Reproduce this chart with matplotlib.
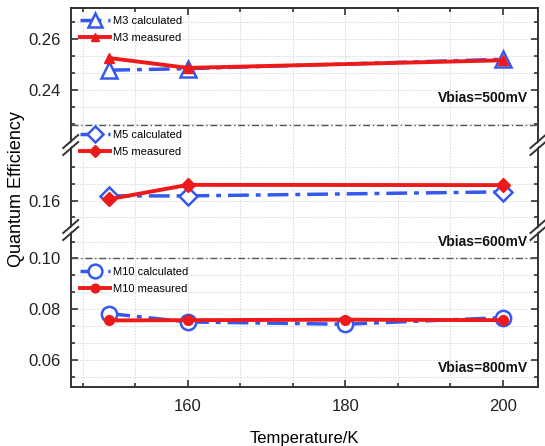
import numpy as np
import matplotlib
matplotlib.use("Agg")
import matplotlib.pyplot as plt
from matplotlib.ticker import FixedLocator, MultipleLocator, AutoMinorLocator
from matplotlib.lines import Line2D
from matplotlib.patches import Polygon

plt.rcParams["font.family"] = ["Liberation Sans", "DejaVu Sans"]

# ---- data --------------------------------------------------------------------
temp_m3 = [150, 160, 200]
m3_calc = [0.2478, 0.2484, 0.2521]
m3_meas = [0.2526, 0.2487, 0.2517]

temp_m5 = [150, 160, 200]
m5_calc = [0.1619, 0.1619, 0.1635]
m5_meas = [0.1606, 0.1663, 0.1662]

temp_m10 = [150, 160, 180, 200]
m10_calc = [0.0783, 0.0750, 0.0741, 0.0767]
m10_meas = [0.0756, 0.0757, 0.0759, 0.0757]

x_ticks = [160, 180, 200]
BLUE, RED = "#3558ee", "#ee1a1a"
W, H = 545, 446

# ---- layout: three stacked panels sharing one y scale (broken axis) ---------
L, R = 70.7 / W, 538 / W
y_px = [8.3, 145, 230, 386.7]          # panel edges (pixels from top)
def fy(p):
    return 1 - p / H

fig = plt.figure(figsize=(W / 100, H / 100), dpi=100)
ax_t = fig.add_axes([L, fy(y_px[1]), R - L, fy(y_px[0]) - fy(y_px[1])])
ax_m = fig.add_axes([L, fy(y_px[2]), R - L, fy(y_px[1]) - fy(y_px[2])])
ax_b = fig.add_axes([L, fy(y_px[3]), R - L, fy(y_px[2]) - fy(y_px[3])])
axes = [ax_t, ax_m, ax_b]

ax_t.set_ylim(0.2183, 0.2722)
ax_m.set_ylim(0.1483, 0.1822)
ax_b.set_ylim(0.0495, 0.1112)

ax_t.yaxis.set_major_locator(FixedLocator([0.24, 0.26]))
ax_t.yaxis.set_minor_locator(FixedLocator([0.2267, 0.2333, 0.2467, 0.2533, 0.2667]))
ax_m.yaxis.set_major_locator(FixedLocator([0.16]))
ax_m.yaxis.set_minor_locator(FixedLocator([0.1533, 0.1667, 0.1733]))
ax_b.yaxis.set_major_locator(MultipleLocator(0.02))
ax_b.yaxis.set_minor_locator(AutoMinorLocator(3))

for ax in axes:
    ax.set_xlim(145.1, 204.5)
    ax.xaxis.set_major_locator(FixedLocator(x_ticks))
    ax.xaxis.set_minor_locator(FixedLocator([146.67, 153.33, 166.67, 173.33, 186.67, 193.33]))
    ax.grid(True, which="both", color="#d8d8d8", ls=(0, (1.5, 1.5)), lw=0.7)
    ax.set_axisbelow(True)
    ax.tick_params(which="both", direction="in", top=True, right=True,
                   labelsize=12, width=1.2, color="#333333", labelcolor="#222222")
    ax.tick_params(which="major", length=5, pad=7)
    ax.tick_params(which="minor", length=3)
    ax.yaxis.set_major_formatter(plt.FormatStrFormatter("%.2f"))
    for s in ax.spines.values():
        s.set_linewidth(1.4)
        s.set_color("#333333")

ax_t.spines["bottom"].set_visible(False)
ax_m.spines["top"].set_visible(False)
ax_m.spines["bottom"].set_visible(False)
ax_b.spines["top"].set_visible(False)
ax_t.tick_params(axis="x", which="both", bottom=False, labelbottom=False)
ax_m.tick_params(axis="x", which="both", bottom=False, top=False, labelbottom=False)
ax_b.tick_params(axis="x", which="both", top=False, pad=9)

# ---- separators between bias groups ----------------------------------------
ax_t.axhline(0.2262, color="#555555", lw=1.0, ls=(0, (5, 2, 1, 2)))
ax_b.axhline(0.10, color="#555555", lw=1.0, ls=(0, (5, 2, 1, 2)))

# ---- series -----------------------------------------------------------------
calc_ls = (0, (6, 2, 1.4, 2))
groups = [
    (ax_t, temp_m3, m3_calc, m3_meas, "^", 11, "M3", 22.7),
    (ax_m, temp_m5, m5_calc, m5_meas, "D", 9, "M5", 136.7),
    (ax_b, temp_m10, m10_calc, m10_meas, "o", 11, "M10", 273.3),
]
for ax, t, calc, meas, mk, msize, name, leg_y in groups:
    hc, = ax.plot(t, calc, color=BLUE, lw=2.5, ls=calc_ls, marker=mk, ms=msize,
                  mfc="white", mec=BLUE, mew=1.8, zorder=3)
    hm, = ax.plot(t, meas, color=RED, lw=2.8, marker=mk, ms=7, mfc=RED, mec=RED, zorder=4)
    fig.legend([hc, hm], [f"{name} calculated", f"{name} measured"],
               loc="upper left", bbox_to_anchor=(80 / W, fy(leg_y - 6.5)),
               frameon=False, fontsize=8, borderpad=0, borderaxespad=0,
               handlelength=2.7, handletextpad=0.25, labelspacing=0.62,
               numpoints=1, markerscale=0.9)

# ---- bias annotations ------------------------------------------------------
for txt, yp in [("Vbias=500mV", 98.3), ("Vbias=600mV", 241.7), ("Vbias=800mV", 368.3)]:
    fig.text(528 / W, fy(yp), txt, ha="right", va="center",
             fontsize=10, fontweight="bold", color="#111111")

# ---- axis-break marks --------------------------------------------------------
for yb in (y_px[1], y_px[2]):
    for xb in (L * W, R * W):
        fig.add_artist(Polygon([[(xb - 4) / W, fy(yb + 1.5)], [(xb + 4) / W, fy(yb - 5.5)],
                                [(xb + 4) / W, fy(yb - 1.5)], [(xb - 4) / W, fy(yb + 5.5)]],
                               closed=True, fc="white", ec="none", transform=fig.transFigure))
        for d in (-3.5, 3.5):
            x0, x1 = xb - 7.5, xb + 7.5
            y0, y1 = yb + d + 6.5, yb + d - 6.5
            fig.add_artist(Line2D([x0 / W, x1 / W], [fy(y0), fy(y1)],
                                  color="#333333", lw=1.4, transform=fig.transFigure))

ax_b.set_xlabel("Temperature/K", fontsize=12, labelpad=12)
fig.text(17 / W, fy(189), "Quantum Efficiency", rotation=90, ha="center", va="center", fontsize=13)

fig.savefig("out.png", dpi=100)
